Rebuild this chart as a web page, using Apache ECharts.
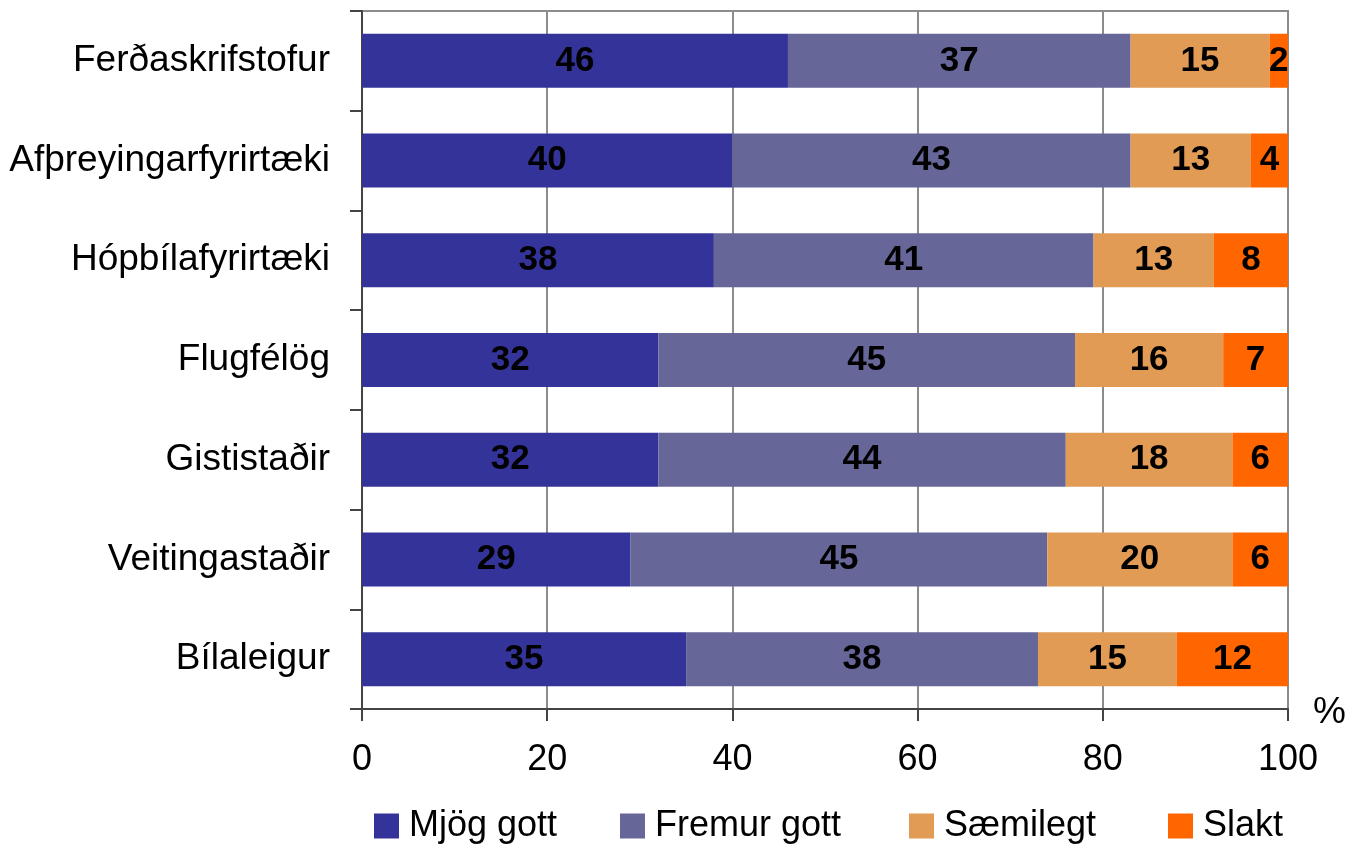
<!DOCTYPE html>
<html>
<head>
<meta charset="utf-8">
<script src="https://cdn.jsdelivr.net/npm/echarts@6/dist/echarts.min.js"></script>
<style>
  html, body { margin: 0; padding: 0; background: #fff; }
  #chart { width: 1347px; height: 845px; }
</style>
</head>
<body>
<div id="chart"></div>
<script>
const categories = ['Ferðaskrifstofur', 'Afþreyingarfyrirtæki', 'Hópbílafyrirtæki', 'Flugfélög', 'Gististaðir', 'Veitingastaðir', 'Bílaleigur'];
const seriesNames = ['Mjög gott', 'Fremur gott', 'Sæmilegt', 'Slakt'];
const mjogGott = [46, 40, 38, 32, 32, 29, 35];
const fremurGott = [37, 43, 41, 45, 44, 45, 38];
const saemilegt = [15, 13, 13, 16, 18, 20, 15];
const slakt = [2, 4, 8, 7, 6, 6, 12];
const xTicks = [0, 20, 40, 60, 80, 100];

const font = '"Liberation Sans", Arial, sans-serif';
const legendLeft = [374, 620, 909, 1168];

const chart = echarts.init(document.getElementById('chart'));

const makeSeries = (name, data, color) => ({
  name: name,
  type: 'bar',
  stack: 'total',
  data: data,
  barWidth: 54,
  itemStyle: { color: color },
  label: {
    show: true,
    position: 'inside',
    color: '#000',
    fontFamily: font,
    fontWeight: 'bold',
    fontSize: 35,
  },
});

// one legend per item so the spacing matches the original
const legends = seriesNames.map((name, i) => ({
  data: [name],
  left: legendLeft[i],
  top: 808,
  padding: 0,
  icon: 'rect',
  itemWidth: 25,
  itemHeight: 25,
  textStyle: { fontFamily: font, fontSize: 36, color: '#000', padding: [0, 0, 0, 5] },
}));

const option = {
  animation: false,
  backgroundColor: '#fff',
  grid: {
    left: 362,
    right: 59,
    top: 11,
    bottom: 136,
    show: true,
    borderColor: '#8c8c8c',
    borderWidth: 2,
  },
  legend: legends,
  xAxis: {
    type: 'value',
    min: xTicks[0],
    max: xTicks[xTicks.length - 1],
    interval: 20,
    axisLine: { show: true, lineStyle: { color: '#444', width: 2 } },
    axisTick: { show: true, length: 12, lineStyle: { color: '#444', width: 2 } },
    axisLabel: { margin: 33, fontFamily: font, fontSize: 36, color: '#000' },
    splitLine: { show: true, lineStyle: { color: '#8c8c8c', width: 2 } },
  },
  yAxis: {
    type: 'category',
    data: categories,
    inverse: true,
    axisLine: { show: true, lineStyle: { color: '#444', width: 2 } },
    axisTick: { show: true, length: 12, lineStyle: { color: '#444', width: 2 } },
    axisLabel: { margin: 32, fontFamily: font, fontSize: 37, color: '#000' },
  },
  graphic: [{
    type: 'text',
    left: 1313,
    top: 694,
    style: { text: '%', font: '37px "Liberation Sans", Arial, sans-serif', fill: '#000' },
  }],
  series: [
    makeSeries(seriesNames[0], mjogGott, '#333399'),
    makeSeries(seriesNames[1], fremurGott, '#666699'),
    makeSeries(seriesNames[2], saemilegt, '#e19b55'),
    makeSeries(seriesNames[3], slakt, '#ff6600'),
  ],
};

chart.setOption(option);

window.addEventListener('resize', function () {
  chart.resize();
});
</script>
</body>
</html>
